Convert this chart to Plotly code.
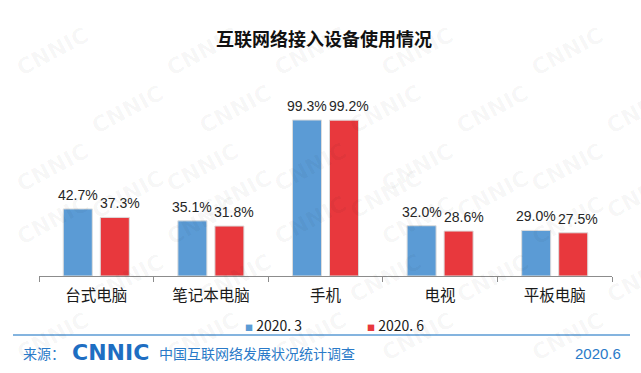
import plotly.graph_objects as go

categories = ["台式电脑", "笔记本电脑", "手机", "电视", "平板电脑"]
series_names = ["2020. 3", "2020. 6"]
values_2020_3 = [42.7, 35.1, 99.3, 32.0, 29.0]
values_2020_6 = [37.3, 31.8, 99.2, 28.6, 27.5]
title_text = "互联网络接入设备使用情况"
source_label = "来源："
logo_text = "CNNIC"
source_text = "中国互联网络发展状况统计调查"
date_text = "2020.6"

W, H = 641, 373
L, R, T, B = 39, 29, 80, 97
PW, PH = W - L - R, H - T - B
Y0 = T + PH  # baseline pixel


def px(x):
    return (x - L) / PW


def py(y):
    return (Y0 - y) / PH


BLUE = "#5B9BD5"
RED = "#E8383D"
CJK = "Noto Sans CJK SC"
NUM = "Liberation Sans"

fig = go.Figure()
annotations = []
for name, vals, col, shift in [(series_names[0], values_2020_3, BLUE, -18.5),
                                (series_names[1], values_2020_6, RED, 23.5)]:
    fig.add_trace(go.Bar(
        x=categories, y=vals, name=name,
        marker=dict(color=col, line=dict(color="#dcdcdc", width=1)),
        showlegend=False,
    ))
    for cat, v in zip(categories, vals):
        annotations.append(dict(
            x=cat, y=v, xref="x", yref="y", text=f"{v:.1f}%", showarrow=False,
            xanchor="center", yanchor="bottom", xshift=shift, yshift=4,
            font=dict(family=NUM, size=14, color="#262626"),
        ))

# watermark
for r in range(7):
    for c in range(5):
        xx = 10 + c * 150 + (r % 2) * 75
        yy = 20 + r * 58
        annotations.append(dict(
            text="<b>CNNIC</b>", x=px(xx), y=py(yy), xref="paper", yref="paper",
            showarrow=False, textangle=-28,
            font=dict(family="DejaVu Sans", size=22, color="rgba(0,0,0,0.035)"),
        ))

# legend (manual, colored squares + text)
for name, col, lx in [(series_names[0], BLUE, 243), (series_names[1], RED, 365)]:
    annotations.append(dict(
        text=f'<span style="color:{col};font-size:8px">■</span> {name}',
        x=px(lx), y=py(325), xref="paper", yref="paper", xanchor="left", yanchor="middle",
        showarrow=False, font=dict(family=CJK, size=14, color="#1a1a1a"),
    ))

annotations += [
    dict(text=source_label, x=px(21), y=py(353), xref="paper", yref="paper", xanchor="left",
         yanchor="middle", showarrow=False, font=dict(family=CJK, size=14, color="#2A7AC8")),
    dict(text="<b>" + logo_text + "</b>", x=px(70), y=py(352), xref="paper", yref="paper",
         xanchor="left", yanchor="middle", showarrow=False,
         font=dict(family="DejaVu Sans", size=22, color="#1E6EC2")),
    dict(text=source_text, x=px(157), y=py(353), xref="paper", yref="paper", xanchor="left",
         yanchor="middle", showarrow=False, font=dict(family=CJK, size=14, color="#2A7AC8")),
    dict(text=date_text, x=px(623), y=py(353), xref="paper", yref="paper", xanchor="right",
         yanchor="middle", showarrow=False, font=dict(family=NUM, size=15, color="#2A7AC8")),
]

fig.update_layout(
    width=W, height=H, margin=dict(l=L, r=R, t=T, b=B, autoexpand=False),
    paper_bgcolor="white", plot_bgcolor="white", showlegend=False,
    title=dict(text="<b>" + title_text + "</b>", x=324 / W, y=1 - 40 / H,
               xref="container", yref="container", xanchor="center", yanchor="middle",
               font=dict(family=CJK, size=18, color="#111")),
    barmode="group", bargap=0.354, bargroupgap=0.216,
    xaxis=dict(showline=True, linecolor="#8c8c8c", linewidth=1, ticks="outside",
               tickson="boundaries", ticklen=5, tickcolor="#8c8c8c", ticklabelstandoff=5,
               tickfont=dict(family=CJK, size=15.5, color="#1a1a1a"),
               showgrid=False, fixedrange=True),
    yaxis=dict(range=[0, PH / 1.571], visible=False, showgrid=False, fixedrange=True),
    shapes=[dict(type="line", xref="paper", yref="paper", x0=px(13), x1=px(630),
                 y0=py(335), y1=py(335), line=dict(color="#5B9BD5", width=1.5))],
    annotations=annotations,
)

fig.write_html("out.html", config={"displayModeBar": False},
               post_script="document.body.style.margin='0';document.body.style.padding='0';")
